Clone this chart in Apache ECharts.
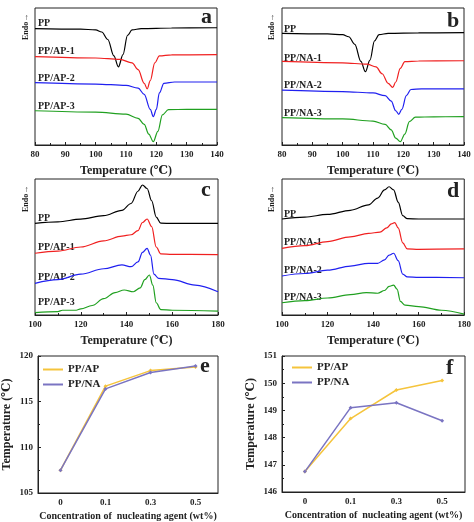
<!DOCTYPE html>
<html>
<head>
<meta charset="UTF-8">
<title>DSC</title>
<script src="https://cdn.jsdelivr.net/npm/echarts@6/dist/echarts.min.js"></script>
<style>
    html, body { margin: 0; padding: 0; background: #fff; }
    #main { width: 474px; height: 522px; }
</style>
</head>
<body>
<div id="main"></div>
<script>
// ---- panel a: crystallization, AP ----
var aPP   = [[80,85],[95,84.6],[100,84],[102,82.5],[104,77],[106,65],[107.5,57],[109,66],[110.5,80],[112,84],[115,85],[125,85.4],[140,85.6]];
var aAP1  = [[80,64.5],[100,63.5],[108,62.5],[112,60],[114,55],[116,45],[117,41],[118,47],[119.5,60],[121,65],[125,65.8],[140,66]];
var aAP2  = [[80,45.5],[100,44.5],[110,43.5],[114,41.5],[116,37],[118,26],[119,20.7],[120,26],[121,38],[122.5,45],[126,46],[140,46]];
var aAP3  = [[80,25],[100,24],[110,22.5],[114,19.5],[116,15],[117.5,8],[119,2.4],[120.5,10],[122,22],[124,25.8],[130,26],[140,26]];
// ---- panel b: crystallization, NA ----
var bPP   = [[80,81.5],[95,81.1],[100,80.5],[102,79],[104,73.5],[106,61],[107.5,53.5],[109,62],[110.5,76],[112,80.5],[115,81.5],[125,81.8],[140,82]];
var bNA1  = [[80,61],[100,60],[108,59],[111,57],[113,52],[115,45],[116.5,42],[117.5,46],[119,56],[120.5,60.8],[125,61.3],[140,61.5]];
var bNA2  = [[80,40],[100,39],[110,38],[114,36],[116,32],[117.5,25],[118.5,22.4],[119.5,26],[121,36],[122.5,40.5],[126,41],[140,41]];
var bNA3  = [[80,20],[100,19],[110,17.5],[114,15],[116,11],[117.5,5],[119,2.4],[120.5,8],[122,17],[124,20.3],[130,20.6],[140,20.7]];
// ---- panel c: melting, AP ----
var cPP   = [[100,67.4],[110,68.5],[120,70.5],[130,73],[138,77],[142,82],[145,91],[147,95.6],[149,93],[151,84],[153,72],[155,67.5],[160,67.3],[180,67.3]];
var cAP1  = [[100,45.4],[110,47],[120,50],[130,54.5],[138,58],[142,59],[145,62],[147,68],[149,70.6],[151,65],[153,50],[155,45],[160,44.6],[180,44.4]];
var cAP2  = [[100,23.3],[110,26],[120,30],[130,34],[138,36.8],[142,35.5],[145,39],[147,46],[149,49],[150.5,44],[152,30],[154,27],[160,26],[170,22],[180,17.1]];
var cAP3  = [[100,1.7],[110,2.5],[112,3.5],[118,3.5],[120,4.5],[125,7],[130,12],[135,16.5],[139,18.4],[143,17.1],[146,20],[148,26],[150,29.4],[151.5,22],[153,9],[155,4],[160,3.5],[180,2.9]];
// ---- panel d: melting, NA ----
var dPP   = [[100,70.6],[110,72],[120,74],[130,77],[138,81],[142,86],[145,92],[147,94.3],[149,92],[151,83],[153,73],[155,70.8],[160,70.6],[180,70.6]];
var dNA1  = [[100,49],[110,51],[120,54],[130,57.5],[138,60],[143,61],[146,64],[148,67],[149.5,67.9],[151,64],[153,53],[155,48.6],[160,48.3],[180,48.6]];
var dNA2  = [[100,28.7],[110,30.5],[120,33],[130,36],[138,38],[142,38],[145,40.5],[147,44],[149,45.4],[151,40],[153,30],[155,28],[160,27.7],[180,27.4]];
var dNA3  = [[100,9],[110,10.5],[120,12.5],[130,15],[137,16.4],[142,16],[145,18],[147,21],[149,22],[150.5,19],[152,10],[154,7.2],[160,6.2],[170,3.5],[180,0.7]];
// ---- panels e, f ----
var conc  = ['0', '0.1', '0.3', '0.5'];
var eAP   = [107.5, 116.7, 118.4, 118.8];
var eNA   = [107.5, 116.4, 118.2, 118.9];
var fAP   = [146.75, 148.7, 149.75, 150.1];
var fNA   = [146.75, 149.1, 149.28, 148.62];

var serif = '"Liberation Serif", "DejaVu Serif", serif';
var colors = ['#000', '#f02020', '#2020f0', '#20a020'];

var grids = [
    {left: 35, top: 8, width: 182, height: 137},
    {left: 282, top: 8, width: 182, height: 137},
    {left: 35, top: 179, width: 183, height: 136},
    {left: 282, top: 179, width: 183, height: 136},
    {left: 37, top: 356, width: 181, height: 137},
    {left: 282, top: 356, width: 183, height: 136}
];
grids.forEach(function (g) { g.show = true; g.borderColor = '#222'; g.borderWidth = 1; });

var tickLabel = {fontFamily: serif, fontWeight: 'bold', fontSize: 9, color: '#222', margin: 5};
var tempName = {fontFamily: serif, fontWeight: 'bold', fontSize: 12, color: '#222'};

function tempAxis(idx, min, max, step) {
    return {
        type: 'value', gridIndex: idx, min: min, max: max, interval: step,
        name: 'Temperature (℃)', nameLocation: 'middle', nameGap: 20, nameTextStyle: tempName,
        axisLine: {lineStyle: {color: '#222'}},
        axisTick: {inside: true, length: 3},
        minorTick: {show: true, splitNumber: 2, length: 2},
        axisLabel: tickLabel, splitLine: {show: false}
    };
}
function blankY(idx) {
    return {type: 'value', gridIndex: idx, min: 0, max: 100, show: false, splitLine: {show: false}};
}
function curve(idx, data, c) {
    return {type: 'line', xAxisIndex: idx, yAxisIndex: idx, data: data, smooth: 0.35, smoothMonotone: 'x',
        showSymbol: false, lineStyle: {color: colors[c], width: 1.2}, silent: true};
}

var xAxes = [tempAxis(0, 80, 140, 10), tempAxis(1, 80, 140, 10), tempAxis(2, 100, 180, 20), tempAxis(3, 100, 180, 20)];
var yAxes = [blankY(0), blankY(1), blankY(2), blankY(3)];
[4, 5].forEach(function (i) {
    xAxes.push({
        type: 'category', gridIndex: i, data: conc, boundaryGap: true,
        name: 'Concentration of  nucleating agent (wt%)', nameLocation: 'middle', nameGap: 18,
        nameTextStyle: {fontFamily: serif, fontWeight: 'bold', fontSize: 10, color: '#222'},
        axisLine: {lineStyle: {color: '#222'}}, axisTick: {inside: true, length: 3, alignWithLabel: true},
        axisLabel: tickLabel
    });
});
function tempY(idx, min, max, step) {
    return {type: 'value', gridIndex: idx, min: min, max: max, interval: step,
        name: 'Temperature (℃)', nameLocation: 'middle', nameGap: 25, nameTextStyle: tempName,
        axisLine: {show: true, lineStyle: {color: '#222'}}, axisTick: {show: true, inside: true, length: 3},
        minorTick: {show: true, splitNumber: 2, length: 2},
        axisLabel: tickLabel, splitLine: {show: false}};
}
yAxes.push(tempY(4, 105, 120, 5), tempY(5, 146, 151, 1));

var series = [
    curve(0, aPP, 0), curve(0, aAP1, 1), curve(0, aAP2, 2), curve(0, aAP3, 3),
    curve(1, bPP, 0), curve(1, bNA1, 1), curve(1, bNA2, 2), curve(1, bNA3, 3),
    curve(2, cPP, 0), curve(2, cAP1, 1), curve(2, cAP2, 2), curve(2, cAP3, 3),
    curve(3, dPP, 0), curve(3, dNA1, 1), curve(3, dNA2, 2), curve(3, dNA3, 3)
];
function trend(idx, name, data, col) {
    return {type: 'line', name: name, xAxisIndex: idx, yAxisIndex: idx, data: data,
        symbol: 'diamond', symbolSize: 4, itemStyle: {color: col},
        lineStyle: {color: col, width: 1.5}};
}
series.push(trend(4, 'PP/AP', eAP, '#f5c43c'), trend(4, 'PP/NA', eNA, '#7a74c2'));
series.push(trend(5, 'PP/AP', fAP, '#f5c43c'), trend(5, 'PP/NA', fNA, '#7a74c2'));

var lbl = {fontFamily: serif, fontWeight: 'bold', fontSize: 10, fill: '#222'};
function txt(x, y, s, extra) {
    var st = Object.assign({}, lbl, {text: s}, extra || {});
    return {type: 'text', left: x, top: y, style: st};
}
function endo(x, y) {
    return {type: 'text', x: x, y: y, rotation: Math.PI / 2, style: Object.assign({}, lbl, {text: 'Endo→', fontSize: 8})};
}
var big = {fontSize: 22};
var graphics = [
    endo(22, 40), endo(268, 40), endo(22, 212), endo(268, 212),
    txt(38, 18, 'PP'), txt(38, 46, 'PP/AP-1'), txt(38, 73, 'PP/AP-2'), txt(38, 101, 'PP/AP-3'),
    txt(284, 24, 'PP'), txt(284, 53, 'PP/NA-1'), txt(284, 80, 'PP/NA-2'), txt(284, 108, 'PP/NA-3'),
    txt(38, 213, 'PP'), txt(38, 242, 'PP/AP-1'), txt(38, 272, 'PP/AP-2'), txt(38, 297, 'PP/AP-3'),
    txt(284, 209, 'PP'), txt(284, 237, 'PP/NA-1'), txt(284, 265, 'PP/NA-2'), txt(284, 292, 'PP/NA-3'),
    txt(201, 6, 'a', big), txt(447, 10, 'b', big), txt(201, 179, 'c', big), txt(447, 180, 'd', big),
    txt(200, 355, 'e', big), txt(446, 357, 'f', big)
];

var legendText = {fontFamily: serif, fontWeight: 'bold', fontSize: 11, color: '#222'};
var lineIcon = 'path://M0,0 L20,0 L20,2 L0,2 Z';
var option = {
    animation: false,
    grid: grids,
    xAxis: xAxes,
    yAxis: yAxes,
    legend: [
        {data: ['PP/AP', 'PP/NA'], left: 38, top: 359, orient: 'vertical', itemGap: 4, itemWidth: 20, itemHeight: 3,
         textStyle: legendText, icon: lineIcon, selectedMode: false},
        {data: ['PP/AP', 'PP/NA'], left: 287, top: 357, orient: 'vertical', itemGap: 4, itemWidth: 20, itemHeight: 3,
         textStyle: legendText, icon: lineIcon, selectedMode: false}
    ],
    series: series,
    graphic: graphics
};
var chart = echarts.init(document.getElementById('main'));
chart.setOption(option);
</script>
</body>
</html>
